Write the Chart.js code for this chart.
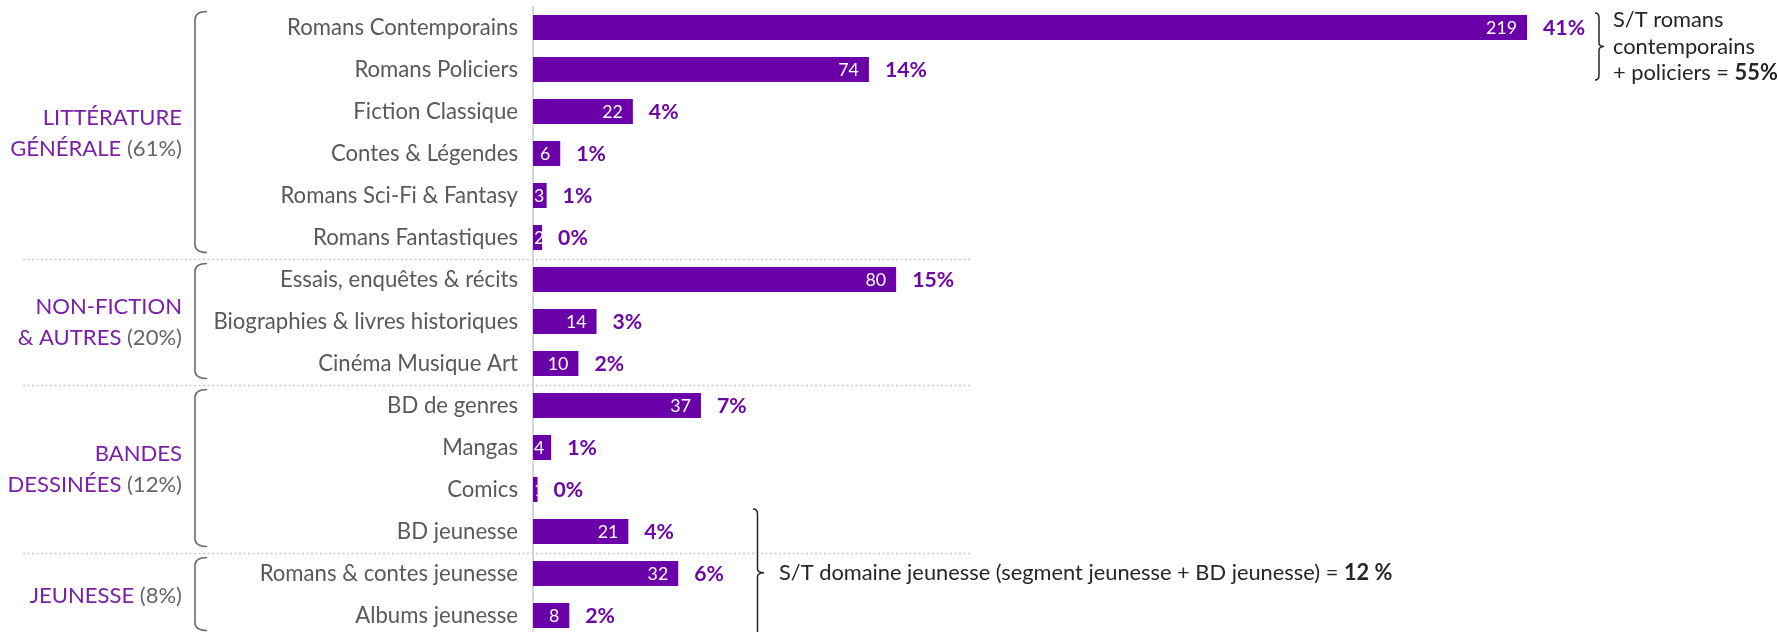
<!DOCTYPE html>
<html>
<head>
<meta charset="utf-8">
<script src="https://cdn.jsdelivr.net/npm/chart.js@4"></script>
<style>
  html, body { margin: 0; padding: 0; background: #ffffff; overflow: hidden; width: 1779px; height: 632px; }
  #wrap { position: relative; width: 1779px; height: 640px; }
</style>
</head>
<body>
<div id="wrap"><canvas id="c" width="1779" height="640"></canvas></div>
<script>
// ---------- DATA ----------
const categories = [
  'Romans Contemporains', 'Romans Policiers', 'Fiction Classique', 'Contes & Légendes',
  'Romans Sci-Fi & Fantasy', 'Romans Fantastiques', 'Essais, enquêtes & récits',
  'Biographies & livres historiques', 'Cinéma Musique Art', 'BD de genres', 'Mangas',
  'Comics', 'BD jeunesse', 'Romans & contes jeunesse', 'Albums jeunesse'
];
const values = [219, 74, 22, 6, 3, 2, 80, 14, 10, 37, 4, 1, 21, 32, 8];
const percentLabels = ['41%', '14%', '4%', '1%', '1%', '0%', '15%', '3%', '2%', '7%', '1%', '0%', '4%', '6%', '2%'];

const groupNames = [['LITTÉRATURE', 'GÉNÉRALE'], ['NON-FICTION', '& AUTRES'], ['BANDES', 'DESSINÉES'], ['JEUNESSE']];
const groupShares = ['(61%)', '(20%)', '(12%)', '(8%)'];
const groupFirst = [0, 6, 9, 13];
const groupLast = [5, 8, 12, 14];

const noteTopLines = ['S/T romans', 'contemporains', '+ policiers = '];
const noteTopBold = '55%';
const noteTopRows = [0, 1];
const noteBottomText = 'S/T domaine jeunesse (segment jeunesse + BD jeunesse) = ';
const noteBottomBold = '12 %';
const noteBottomRows = [12, 14];

// ---------- STYLE ----------
const FONT = 'Lato';
const BAR = '#6A00A8';
const PCT = '#6C06A8';
const GROUP = '#7A1FA8';
const GRAY = '#595959';
const DARK = '#262626';

function measure(text, weight) {
  const c = document.createElement('canvas').getContext('2d');
  c.font = weight + ' 100px ' + FONT;
  return c.measureText(text).width;
}
function fit(text, target, weight) {
  return 100 * target / measure(text, weight);
}
const tickSize = fit('Romans Contemporains', 231, 'normal');
const groupSize = fit('GÉNÉRALE (61%)', 172, 'normal');
const noteSize = 100 * 614 / (measure(noteBottomText, 'normal') + measure(noteBottomBold, 'bold'));
const pctSize = fit('41%', 42, 'bold');
const valSize = fit('219', 31, 'normal');

const overlay = {
  id: 'overlay',
  afterDatasetsDraw(chart) {
    const ctx = chart.ctx;
    const meta = chart.getDatasetMeta(0);
    meta.data.forEach((bar, i) => {
      const p = bar.getProps(['x', 'y', 'base', 'height'], true);
      const top = p.y - p.height / 2;
      ctx.save();
      ctx.beginPath();
      ctx.rect(p.base, top, p.x - p.base, p.height);
      ctx.clip();
      ctx.font = 'normal ' + valSize + 'px ' + FONT;
      ctx.fillStyle = '#ffffff';
      ctx.textBaseline = 'middle';
      const txt = String(values[i]);
      const tw = ctx.measureText(txt).width;
      let right = p.x - 10;
      if (right - tw < p.base) right = p.base + 1 + tw;
      ctx.textAlign = 'right';
      ctx.fillText(txt, right, p.y + 1);
      ctx.restore();

      ctx.save();
      ctx.font = 'bold ' + pctSize + 'px ' + FONT;
      ctx.fillStyle = PCT;
      ctx.textAlign = 'left';
      ctx.textBaseline = 'middle';
      ctx.fillText(percentLabels[i], p.x + 16, p.y + 1);
      ctx.restore();
    });
  },
  afterDraw(chart) {
    const ctx = chart.ctx;
    const y = chart.scales.y;
    const step = y.getPixelForValue(1) - y.getPixelForValue(0);
    const bandTop = i => y.getPixelForValue(i) - step / 2;
    const bandBottom = i => y.getPixelForValue(i) + step / 2;

    // dotted separators between groups
    ctx.save();
    ctx.strokeStyle = '#c9c9c9';
    ctx.lineWidth = 1.5;
    ctx.setLineDash([2, 2.5]);
    for (let g = 1; g < groupFirst.length; g++) {
      const yy = Math.round(bandTop(groupFirst[g])) + 0.5;
      ctx.beginPath();
      ctx.moveTo(23, yy);
      ctx.lineTo(970, yy);
      ctx.stroke();
    }
    ctx.restore();

    // left brackets + group labels
    for (let g = 0; g < groupFirst.length; g++) {
      const t = bandTop(groupFirst[g]) + 5;
      const b = bandBottom(groupLast[g]) - 6;
      const x0 = 195, x1 = 207, r = 8;
      ctx.save();
      ctx.strokeStyle = '#6b6b6b';
      ctx.lineWidth = 1.6;
      ctx.beginPath();
      ctx.moveTo(x1, t);
      ctx.quadraticCurveTo(x0, t, x0, t + r);
      ctx.lineTo(x0, b - r);
      ctx.quadraticCurveTo(x0, b, x1, b);
      ctx.stroke();
      ctx.restore();

      const mid = (bandTop(groupFirst[g]) + bandBottom(groupLast[g])) / 2 + 1;
      const lines = groupNames[g];
      const lh = 31;
      const startY = mid - (lines.length - 1) * lh / 2;
      ctx.save();
      ctx.font = 'normal ' + groupSize + 'px ' + FONT;
      ctx.textBaseline = 'middle';
      ctx.textAlign = 'right';
      const xr = 182;
      lines.forEach((ln, k) => {
        const yy = startY + k * lh;
        if (k === lines.length - 1) {
          const share = ' ' + groupShares[g];
          ctx.fillStyle = '#666666';
          ctx.fillText(share, xr, yy);
          const sw = ctx.measureText(share).width;
          ctx.fillStyle = GROUP;
          ctx.fillText(ln, xr - sw, yy);
        } else {
          ctx.fillStyle = GROUP;
          ctx.fillText(ln, xr, yy);
        }
      });
      ctx.restore();
    }

    function brace(xl, xm, xt, t, m, b) {
      ctx.save();
      ctx.strokeStyle = DARK;
      ctx.lineWidth = 1.5;
      ctx.beginPath();
      ctx.moveTo(xl, t);
      ctx.quadraticCurveTo(xm, t, xm, t + 5);
      ctx.lineTo(xm, m - 4);
      ctx.quadraticCurveTo(xm, m, xt, m);
      ctx.quadraticCurveTo(xm, m, xm, m + 4);
      ctx.lineTo(xm, b - 5);
      ctx.quadraticCurveTo(xm, b, xl, b);
      ctx.stroke();
      ctx.restore();
    }

    // top note
    const tTop = bandTop(noteTopRows[0]) + 6.5;
    const tBot = bandBottom(noteTopRows[1]) - 10.5;
    const tMid = (tTop + tBot) / 2;
    brace(1595, 1599, 1604, tTop, tMid, tBot);
    ctx.save();
    ctx.fillStyle = DARK;
    ctx.textBaseline = 'middle';
    ctx.textAlign = 'left';
    noteTopLines.forEach((ln, k) => {
      const yy = tMid + (k - 1) * 26.5;
      ctx.font = 'normal ' + noteSize + 'px ' + FONT;
      ctx.fillText(ln, 1613, yy);
      if (k === noteTopLines.length - 1) {
        const w = ctx.measureText(ln).width;
        ctx.font = 'bold ' + noteSize + 'px ' + FONT;
        ctx.fillText(noteTopBold, 1613 + w, yy);
      }
    });
    ctx.restore();

    // bottom note
    const bTop = bandTop(noteBottomRows[0]) - 1.5;
    const bBot = bandBottom(noteBottomRows[1]);
    const bMid = (bTop + bBot) / 2;
    brace(753, 757.5, 764, bTop, bMid, bBot);
    ctx.save();
    ctx.font = 'normal ' + noteSize + 'px ' + FONT;
    ctx.fillStyle = DARK;
    ctx.textBaseline = 'middle';
    ctx.textAlign = 'left';
    ctx.fillText(noteBottomText, 779, bMid);
    const w2 = ctx.measureText(noteBottomText).width;
    ctx.font = 'bold ' + noteSize + 'px ' + FONT;
    ctx.fillText(noteBottomBold, 779 + w2, bMid);
    ctx.restore();
  }
};

new Chart(document.getElementById('c'), {
  type: 'bar',
  data: {
    labels: categories,
    datasets: [{
      data: values,
      backgroundColor: BAR,
      borderWidth: 0,
      categoryPercentage: 1,
      barPercentage: 0.59
    }]
  },
  options: {
    indexAxis: 'y',
    responsive: false,
    animation: false,
    devicePixelRatio: 1,
    layout: { padding: { left: 0, right: 0, top: 6.5, bottom: 3.5 } },
    plugins: { legend: { display: false }, tooltip: { enabled: false } },
    scales: {
      x: { display: false, min: 0, max: 274.5 },
      y: {
        position: 'left',
        grid: { display: false, drawTicks: false },
        border: { display: true, color: '#d6d6d6', width: 2 },
        ticks: {
          autoSkip: false,
          padding: 15,
          color: GRAY,
          font: { family: FONT, size: tickSize }
        },
        afterFit(s) {
          s.width = 533;
          s.paddingTop = 0;
          s.paddingBottom = 0;
        }
      }
    }
  },
  plugins: [overlay]
});
</script>
</body>
</html>
